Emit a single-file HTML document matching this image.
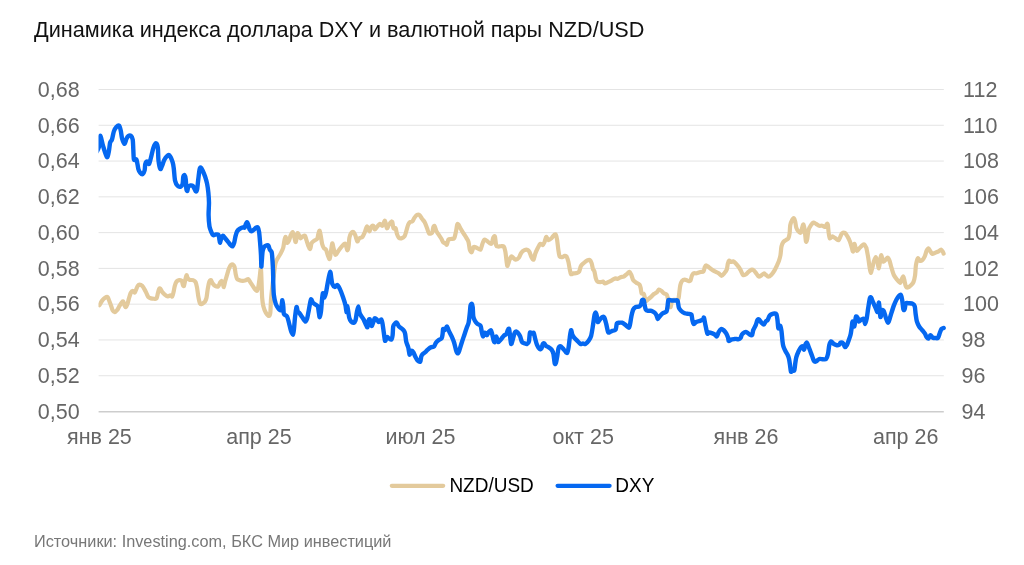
<!DOCTYPE html>
<html lang="ru"><head><meta charset="utf-8"><title>Динамика индекса доллара DXY и валютной пары NZD/USD</title>
<style>
html,body{margin:0;padding:0;background:#fff}
body{width:1024px;height:565px;overflow:hidden;font-family:"Liberation Sans",Arial,sans-serif}
svg{display:block}
text{font-family:"Liberation Sans",Arial,sans-serif}
.ax{font-size:21.5px;fill:#666}
.lg{font-size:19px;fill:#000}
</style></head><body>
<svg width="1024" height="565" viewBox="0 0 1024 565">
<rect width="1024" height="565" fill="#fff"/>
<text x="34" y="36.6" font-size="21.67" fill="#111">Динамика индекса доллара DXY и валютной пары NZD/USD</text>

<line x1="98.6" x2="943.8" y1="89.50" y2="89.50" stroke="#e4e4e4" stroke-width="1"/>
<line x1="98.6" x2="943.8" y1="125.28" y2="125.28" stroke="#e4e4e4" stroke-width="1"/>
<line x1="98.6" x2="943.8" y1="161.06" y2="161.06" stroke="#e4e4e4" stroke-width="1"/>
<line x1="98.6" x2="943.8" y1="196.84" y2="196.84" stroke="#e4e4e4" stroke-width="1"/>
<line x1="98.6" x2="943.8" y1="232.62" y2="232.62" stroke="#e4e4e4" stroke-width="1"/>
<line x1="98.6" x2="943.8" y1="268.40" y2="268.40" stroke="#e4e4e4" stroke-width="1"/>
<line x1="98.6" x2="943.8" y1="304.18" y2="304.18" stroke="#e4e4e4" stroke-width="1"/>
<line x1="98.6" x2="943.8" y1="339.96" y2="339.96" stroke="#e4e4e4" stroke-width="1"/>
<line x1="98.6" x2="943.8" y1="375.74" y2="375.74" stroke="#e4e4e4" stroke-width="1"/>
<line x1="98.6" x2="943.8" y1="411.7" y2="411.7" stroke="#cdcdcd" stroke-width="1.6"/>
<text class="ax" transform="translate(79.7,96.75) scale(1,1.05)" text-anchor="end">0,68</text>
<text class="ax" transform="translate(79.7,132.53) scale(1,1.05)" text-anchor="end">0,66</text>
<text class="ax" transform="translate(79.7,168.31) scale(1,1.05)" text-anchor="end">0,64</text>
<text class="ax" transform="translate(79.7,204.09) scale(1,1.05)" text-anchor="end">0,62</text>
<text class="ax" transform="translate(79.7,239.87) scale(1,1.05)" text-anchor="end">0,60</text>
<text class="ax" transform="translate(79.7,275.65) scale(1,1.05)" text-anchor="end">0,58</text>
<text class="ax" transform="translate(79.7,311.43) scale(1,1.05)" text-anchor="end">0,56</text>
<text class="ax" transform="translate(79.7,347.21) scale(1,1.05)" text-anchor="end">0,54</text>
<text class="ax" transform="translate(79.7,382.99) scale(1,1.05)" text-anchor="end">0,52</text>
<text class="ax" transform="translate(79.7,418.77) scale(1,1.05)" text-anchor="end">0,50</text>
<text class="ax" transform="translate(963.1,96.75) scale(1,1.05)">112</text>
<text class="ax" transform="translate(963.1,132.53) scale(1,1.05)">110</text>
<text class="ax" transform="translate(963.1,168.31) scale(1,1.05)">108</text>
<text class="ax" transform="translate(963.1,204.09) scale(1,1.05)">106</text>
<text class="ax" transform="translate(963.1,239.87) scale(1,1.05)">104</text>
<text class="ax" transform="translate(963.1,275.65) scale(1,1.05)">102</text>
<text class="ax" transform="translate(963.1,311.43) scale(1,1.05)">100</text>
<text class="ax" transform="translate(961.6,347.21) scale(1,1.05)">98</text>
<text class="ax" transform="translate(961.6,382.99) scale(1,1.05)">96</text>
<text class="ax" transform="translate(961.6,418.77) scale(1,1.05)">94</text>
<text class="ax" x="99.4" y="444.4" text-anchor="middle">янв 25</text>
<text class="ax" x="259" y="444.4" text-anchor="middle">апр 25</text>
<text class="ax" x="420.5" y="444.4" text-anchor="middle">июл 25</text>
<text class="ax" x="583.2" y="444.4" text-anchor="middle">окт 25</text>
<text class="ax" x="746" y="444.4" text-anchor="middle">янв 26</text>
<text class="ax" x="905.7" y="444.4" text-anchor="middle">апр 26</text>
<clipPath id="plot"><rect x="98.5" y="80" width="850" height="340"/></clipPath><g clip-path="url(#plot)">
<path d="M99.42,305.28C99.78,304.65 101.12,301.96 101.93,300.88C102.74,299.80 104.27,298.28 105.08,297.74C105.89,297.20 106.96,296.57 107.59,297.11C108.22,297.65 108.93,300.16 109.47,301.51C110.01,302.86 110.91,305.27 111.36,306.53C111.81,307.79 112.16,309.49 112.61,310.3C113.06,311.11 113.87,312.19 114.5,312.19C115.13,312.19 116.29,311.20 117.01,310.3C117.73,309.40 118.80,307.07 119.52,305.9C120.24,304.73 121.50,302.77 122.04,302.14C122.58,301.51 122.93,301.06 123.29,301.51C123.65,301.96 124.19,304.47 124.55,305.28C124.91,306.09 125.39,307.34 125.8,307.16C126.21,306.98 126.99,305.28 127.44,304.02C127.89,302.76 128.46,299.99 128.94,298.37C129.42,296.75 130.29,293.79 130.83,292.71C131.37,291.63 132.17,290.83 132.71,290.83C133.25,290.83 134.15,292.80 134.6,292.71C135.05,292.62 135.40,291.19 135.85,290.2C136.30,289.21 137.20,286.61 137.74,285.8C138.28,284.99 138.99,284.55 139.62,284.55C140.25,284.55 141.42,285.08 142.14,285.8C142.86,286.52 144.02,288.49 144.65,289.57C145.28,290.65 145.99,292.26 146.53,293.34C147.07,294.42 147.79,296.39 148.42,297.11C149.05,297.83 150.12,298.14 150.93,298.37C151.74,298.60 153.26,298.74 154.07,298.74C154.88,298.74 156.04,299.14 156.58,298.37C157.12,297.60 157.48,294.69 157.84,293.34C158.20,291.99 158.74,289.60 159.1,288.94C159.46,288.28 159.90,288.24 160.35,288.69C160.80,289.14 161.61,291.25 162.24,292.09C162.87,292.93 163.94,293.97 164.75,294.6C165.56,295.23 167.08,296.39 167.89,296.48C168.70,296.57 169.77,295.23 170.4,295.23C171.03,295.23 171.84,296.93 172.29,296.48C172.74,296.03 173.18,293.62 173.54,292.09C173.90,290.56 174.35,287.33 174.8,285.8C175.25,284.27 176.05,282.22 176.68,281.41C177.31,280.60 178.48,280.24 179.2,280.15C179.92,280.06 181.17,280.06 181.71,280.78C182.25,281.50 182.64,284.46 182.96,285.18C183.28,285.90 183.65,286.52 183.97,285.8C184.29,285.08 184.87,281.67 185.23,280.15C185.59,278.63 186.12,275.40 186.48,275.13C186.84,274.86 187.26,277.59 187.74,278.27C188.22,278.95 189.12,279.63 189.87,279.9C190.62,280.17 192.21,279.84 193.02,280.15C193.83,280.46 194.96,280.96 195.53,282.04C196.10,283.12 196.65,285.63 197.04,287.69C197.43,289.75 197.88,294.24 198.29,296.48C198.70,298.72 199.42,302.31 199.92,303.39C200.42,304.47 201.18,304.20 201.81,304.02C202.44,303.84 203.86,302.50 204.32,302.14C204.78,301.78 204.69,302.14 205,301.51C205.31,300.88 206.12,299.54 206.51,297.74C206.90,295.94 207.35,291.27 207.76,288.94C208.17,286.61 208.93,282.67 209.4,281.41C209.87,280.15 210.58,279.88 211.03,280.15C211.48,280.42 211.97,282.48 212.54,283.29C213.11,284.10 214.24,285.35 215.05,285.8C215.86,286.25 217.47,286.88 218.19,286.43C218.91,285.98 219.60,283.47 220.08,282.66C220.56,281.85 221.19,280.69 221.58,280.78C221.97,280.87 222.52,282.39 222.84,283.29C223.16,284.19 223.52,287.33 223.84,287.06C224.16,286.79 224.65,283.11 225.1,281.41C225.55,279.71 226.44,276.93 226.98,275.13C227.52,273.33 228.33,270.28 228.87,268.84C229.41,267.40 230.21,265.71 230.75,265.08C231.29,264.45 232.10,264.18 232.64,264.45C233.18,264.72 234.07,265.52 234.52,266.96C234.97,268.40 235.42,272.80 235.78,274.5C236.14,276.20 236.50,278.08 237.04,278.89C237.58,279.70 238.74,279.88 239.55,280.15C240.36,280.42 241.79,280.78 242.69,280.78C243.59,280.78 245.02,280.38 245.83,280.15C246.64,279.92 247.71,278.88 248.34,279.15C248.97,279.42 249.60,281.09 250.23,282.04C250.86,282.99 252.02,284.72 252.74,285.8C253.46,286.88 254.62,288.85 255.25,289.57C255.88,290.29 256.69,291.28 257.14,290.83C257.59,290.38 258.03,288.31 258.39,286.43C258.75,284.55 259.29,280.33 259.65,277.64C260.01,274.95 260.63,267.05 260.9,267.59C261.17,268.13 261.35,277.10 261.53,281.41C261.71,285.72 261.89,294.15 262.16,297.74C262.43,301.33 262.88,304.38 263.42,306.53C263.96,308.68 265.12,311.46 265.93,312.81C266.74,314.16 268.44,315.95 269.07,315.95C269.70,315.95 270.06,315.05 270.33,312.81C270.60,310.57 270.68,303.84 270.95,300.25C271.22,296.66 271.80,291.28 272.21,287.69C272.62,284.10 273.40,278.51 273.84,275.13C274.28,271.75 274.86,266.26 275.3,264.05C275.74,261.84 276.16,261.18 276.93,259.65C277.70,258.12 279.80,255.08 280.7,253.37C281.60,251.66 282.68,249.59 283.22,247.71C283.76,245.83 284.11,241.70 284.47,240.18C284.83,238.66 285.37,236.68 285.73,237.04C286.09,237.40 286.53,242.15 286.98,242.69C287.43,243.23 288.33,241.88 288.87,240.8C289.41,239.72 290.21,236.41 290.75,235.15C291.29,233.89 292.15,231.83 292.64,232.01C293.13,232.19 293.70,234.97 294.15,236.41C294.60,237.85 295.31,242.51 295.78,242.06C296.25,241.61 296.96,234.26 297.41,233.27C297.86,232.28 298.49,234.43 298.92,235.15C299.35,235.87 299.89,238.11 300.43,238.29C300.97,238.47 302.04,236.77 302.69,236.41C303.34,236.05 304.41,235.24 304.95,235.78C305.49,236.32 305.98,238.74 306.46,240.18C306.94,241.62 307.80,244.57 308.34,245.83C308.88,247.09 309.78,249.33 310.23,248.97C310.68,248.61 310.94,244.49 311.48,243.32C312.02,242.15 313.18,241.43 313.99,240.8C314.80,240.17 316.51,239.91 317.14,238.92C317.77,237.93 318.03,235.06 318.39,233.89C318.75,232.72 319.29,230.39 319.65,230.75C320.01,231.11 320.54,234.53 320.9,236.41C321.26,238.29 321.71,242.24 322.16,243.94C322.61,245.64 323.51,247.53 324.05,248.34C324.59,249.15 325.39,248.61 325.93,249.6C326.47,250.59 327.27,253.90 327.81,255.25C328.35,256.60 329.25,259.56 329.7,259.02C330.15,258.48 330.59,253.72 330.95,251.48C331.31,249.24 331.85,243.86 332.21,243.32C332.57,242.78 333.02,246.10 333.47,247.71C333.92,249.32 334.81,253.90 335.35,254.62C335.89,255.34 336.61,253.55 337.24,252.74C337.87,251.93 338.94,250.05 339.75,248.97C340.56,247.89 342.08,245.92 342.89,245.2C343.70,244.48 344.77,243.22 345.4,243.94C346.03,244.66 346.84,249.87 347.29,250.23C347.74,250.59 348.24,248.26 348.54,246.46C348.84,244.66 349.06,239.54 349.42,237.66C349.78,235.78 350.47,234.08 351.06,233.27C351.65,232.46 352.94,231.65 353.57,232.01C354.20,232.37 354.91,234.43 355.45,235.78C355.99,237.13 356.80,241.07 357.34,241.43C357.88,241.79 358.50,238.92 359.22,238.29C359.94,237.66 361.55,237.94 362.36,237.04C363.17,236.14 364.21,233.54 364.87,232.01C365.53,230.48 366.38,226.45 367.01,226.36C367.64,226.27 368.68,231.29 369.27,231.38C369.86,231.47 370.59,227.79 371.16,226.98C371.73,226.17 372.75,225.37 373.29,225.73C373.83,226.09 374.33,229.41 374.92,229.5C375.51,229.59 376.72,227.17 377.44,226.36C378.16,225.55 379.23,223.93 379.95,223.84C380.67,223.75 381.74,226.18 382.46,225.73C383.18,225.28 384.34,220.34 384.97,220.7C385.60,221.06 386.32,227.61 386.86,228.24C387.40,228.87 388.11,226.00 388.74,225.1C389.37,224.20 390.75,222.40 391.26,221.96C391.77,221.52 391.96,221.11 392.29,222.01C392.62,222.91 393.06,227.39 393.54,228.29C394.02,229.19 395.20,227.48 395.68,228.29C396.16,229.10 396.48,232.59 396.93,233.94C397.38,235.29 398.19,237.08 398.82,237.71C399.45,238.34 400.52,238.52 401.33,238.34C402.14,238.16 403.75,237.54 404.47,236.46C405.19,235.38 405.82,232.51 406.36,230.8C406.90,229.09 407.70,225.78 408.24,224.52C408.78,223.26 409.54,222.46 410.13,222.01C410.72,221.56 411.76,222.01 412.39,221.38C413.02,220.75 413.86,218.54 414.52,217.61C415.18,216.68 416.32,215.21 417.04,214.85C417.76,214.49 418.83,214.53 419.55,215.1C420.27,215.67 421.34,217.88 422.06,218.87C422.78,219.86 423.85,220.66 424.57,222.01C425.29,223.36 426.46,226.67 427.09,228.29C427.72,229.91 428.25,232.69 428.97,233.32C429.69,233.95 431.48,233.59 432.11,232.69C432.74,231.79 433.01,227.97 433.37,227.04C433.73,226.11 434.17,225.53 434.62,226.16C435.07,226.79 435.88,230.14 436.51,231.43C437.14,232.72 438.30,234.12 439.02,235.2C439.74,236.28 440.96,237.98 441.53,238.97C442.10,239.96 442.50,241.48 443.04,242.11C443.58,242.74 444.76,243.01 445.3,243.37C445.84,243.73 446.36,245.16 446.81,244.62C447.26,244.08 447.85,240.41 448.44,239.6C449.03,238.79 450.14,239.15 450.95,238.97C451.76,238.79 453.38,239.42 454.1,238.34C454.82,237.26 455.53,233.40 455.98,231.43C456.43,229.46 456.88,225.51 457.24,224.52C457.60,223.53 458.04,223.98 458.49,224.52C458.94,225.06 459.66,227.03 460.38,228.29C461.10,229.55 462.62,231.88 463.52,233.32C464.42,234.76 465.94,237.08 466.66,238.34C467.38,239.60 468.09,240.49 468.54,242.11C468.99,243.73 469.35,248.21 469.8,249.65C470.25,251.09 471.14,252.52 471.68,252.16C472.22,251.80 472.85,247.77 473.57,247.14C474.29,246.51 475.72,247.40 476.71,247.76C477.70,248.12 479.67,250.19 480.48,249.65C481.29,249.11 481.82,245.43 482.36,243.99C482.90,242.55 483.62,240.05 484.25,239.6C484.88,239.15 485.95,240.31 486.76,240.85C487.57,241.39 489.18,243.01 489.9,243.37C490.62,243.73 491.30,244.18 491.78,243.37C492.26,242.56 492.84,238.70 493.29,237.71C493.74,236.72 494.51,235.38 494.92,236.46C495.33,237.54 495.73,243.81 496.18,245.25C496.63,246.69 497.44,246.37 498.07,246.51C498.70,246.65 499.77,246.26 500.58,246.26C501.39,246.26 503.04,245.76 503.72,246.51C504.40,247.26 504.94,249.38 505.35,251.53C505.76,253.68 506.30,259.52 506.61,261.58C506.92,263.64 507.10,266.16 507.49,265.98C507.88,265.80 508.83,261.68 509.37,260.33C509.91,258.98 510.81,257.02 511.26,256.56C511.71,256.10 511.91,256.66 512.54,257.09C513.17,257.52 514.78,259.51 515.68,259.6C516.58,259.69 518.01,258.70 518.82,257.71C519.63,256.72 520.52,253.77 521.33,252.69C522.14,251.61 523.57,250.58 524.47,250.18C525.37,249.78 526.89,249.65 527.61,249.92C528.33,250.19 528.96,251.04 529.5,252.06C530.04,253.08 530.79,256.01 531.38,257.09C531.97,258.17 533.10,260.05 533.64,259.6C534.18,259.15 534.58,255.56 535.15,253.94C535.72,252.32 536.94,249.73 537.66,248.29C538.38,246.85 539.46,244.34 540.18,243.89C540.90,243.44 542.06,245.42 542.69,245.15C543.32,244.88 544.07,243.18 544.57,242.01C545.07,240.84 545.67,237.25 546.21,236.98C546.75,236.71 547.59,239.95 548.34,240.13C549.09,240.31 550.67,238.96 551.48,238.24C552.29,237.52 553.36,235.58 553.99,235.1C554.62,234.62 555.43,234.13 555.88,234.85C556.33,235.57 556.78,237.94 557.14,240.13C557.50,242.32 558.03,247.85 558.39,250.18C558.75,252.51 559.11,255.47 559.65,256.46C560.19,257.45 561.44,257.18 562.16,257.09C562.88,257.00 564.04,255.92 564.67,255.83C565.30,255.74 566.02,255.56 566.56,256.46C567.10,257.36 567.99,260.32 568.44,262.11C568.89,263.90 569.34,267.31 569.7,269.02C570.06,270.73 570.41,273.42 570.95,274.05C571.49,274.68 572.66,273.56 573.47,273.42C574.28,273.28 575.80,273.31 576.61,273.04C577.42,272.77 578.49,272.55 579.12,271.53C579.75,270.51 580.29,267.14 581.01,265.88C581.73,264.62 583.25,263.51 584.15,262.74C585.05,261.97 586.48,260.88 587.29,260.48C588.10,260.08 589.17,259.56 589.8,259.97C590.43,260.38 591.23,262.08 591.68,263.37C592.13,264.66 592.54,267.85 592.94,269.02C593.34,270.19 594.06,270.27 594.45,271.53C594.84,272.79 595.29,276.37 595.7,277.81C596.11,279.25 596.66,280.95 597.34,281.58C598.02,282.21 599.67,282.21 600.48,282.21C601.29,282.21 602.36,281.40 602.99,281.58C603.62,281.76 604.15,283.38 604.87,283.47C605.59,283.56 607.03,282.66 608.02,282.21C609.01,281.76 610.79,280.87 611.78,280.33C612.77,279.79 614.02,278.66 614.92,278.44C615.82,278.22 617.26,279.00 618.07,278.82C618.88,278.64 619.77,277.51 620.58,277.19C621.39,276.87 622.82,277.01 623.72,276.56C624.62,276.11 626.05,274.73 626.86,274.05C627.67,273.37 628.74,271.69 629.37,271.78C630.00,271.87 630.71,273.47 631.26,274.67C631.81,275.87 632.47,279.03 633.19,280.18C633.91,281.33 635.43,282.06 636.33,282.69C637.23,283.32 638.84,283.76 639.47,284.57C640.10,285.38 640.42,287.08 640.73,288.34C641.04,289.60 641.16,292.56 641.61,293.37C642.06,294.18 643.37,293.18 643.87,293.99C644.37,294.80 644.77,298.03 645.13,299.02C645.49,300.01 646.02,300.81 646.38,300.9C646.74,300.99 647.01,300.19 647.64,299.65C648.27,299.11 649.88,297.95 650.78,297.14C651.68,296.33 653.02,294.71 653.92,293.99C654.82,293.27 656.34,292.74 657.06,292.11C657.78,291.48 658.31,289.78 658.94,289.6C659.57,289.42 660.74,290.31 661.46,290.85C662.18,291.39 663.22,292.83 663.97,293.37C664.72,293.91 666.16,293.81 666.73,294.62C667.30,295.43 667.61,297.76 667.99,299.02C668.37,300.28 668.99,302.25 669.37,303.42C669.75,304.59 670.31,307.37 670.63,307.19C670.95,307.01 671.33,303.20 671.63,302.16C671.93,301.12 671.92,300.22 672.76,299.9C673.60,299.58 676.70,300.21 677.54,299.9C678.38,299.59 678.42,298.78 678.67,297.76C678.92,296.74 679.07,294.53 679.3,292.74C679.53,290.95 679.89,286.91 680.3,285.2C680.71,283.49 681.56,281.61 682.19,280.8C682.82,279.99 683.89,279.55 684.7,279.55C685.51,279.55 687.03,280.62 687.84,280.8C688.65,280.98 689.78,281.52 690.35,280.8C690.92,280.08 691.41,276.86 691.86,275.78C692.31,274.70 692.81,273.63 693.49,273.27C694.17,272.91 695.64,273.45 696.63,273.27C697.62,273.09 699.41,272.28 700.4,272.01C701.39,271.74 702.91,272.10 703.54,271.38C704.17,270.66 704.44,267.84 704.8,266.98C705.16,266.12 705.52,265.35 706.06,265.35C706.60,265.35 707.76,266.39 708.57,266.98C709.38,267.57 710.81,268.87 711.71,269.5C712.61,270.13 713.86,270.84 714.85,271.38C715.84,271.92 717.67,272.64 718.62,273.27C719.57,273.90 720.70,275.78 721.51,275.78C722.32,275.78 723.52,274.17 724.27,273.27C725.02,272.37 726.28,270.85 726.78,269.5C727.28,268.15 727.47,265.10 727.79,263.84C728.11,262.58 728.57,260.97 729.05,260.7C729.53,260.43 730.61,261.87 731.18,261.96C731.75,262.05 732.44,261.15 733.07,261.33C733.70,261.51 734.77,262.41 735.58,263.22C736.39,264.03 737.91,265.81 738.72,266.98C739.53,268.15 740.60,270.21 741.23,271.38C741.86,272.55 742.49,274.70 743.12,275.15C743.75,275.60 744.91,274.94 745.63,274.52C746.35,274.10 747.36,272.90 748.17,272.21C748.98,271.52 750.50,269.97 751.31,269.7C752.12,269.43 753.10,269.79 753.82,270.33C754.54,270.87 755.61,272.57 756.33,273.47C757.05,274.37 758.12,276.34 758.84,276.61C759.56,276.88 760.64,275.80 761.36,275.35C762.08,274.90 763.24,273.56 763.87,273.47C764.50,273.38 765.12,274.27 765.75,274.72C766.38,275.17 767.46,276.61 768.27,276.61C769.08,276.61 770.51,275.62 771.41,274.72C772.31,273.82 773.74,271.68 774.55,270.33C775.36,268.98 776.43,266.65 777.06,265.3C777.69,263.95 778.46,262.34 778.94,260.9C779.42,259.46 780.09,257.31 780.45,255.25C780.81,253.19 781.05,248.34 781.46,246.46C781.87,244.58 782.71,242.96 783.34,242.06C783.97,241.16 785.13,240.72 785.85,240.18C786.57,239.64 787.83,239.28 788.37,238.29C788.91,237.30 789.35,235.15 789.62,233.27C789.89,231.39 789.89,226.98 790.25,225.1C790.61,223.22 791.60,221.07 792.14,220.08C792.68,219.09 793.57,217.92 794.02,218.19C794.47,218.46 794.96,220.61 795.28,221.96C795.60,223.31 795.83,226.26 796.28,227.61C796.73,228.96 797.76,230.66 798.42,231.38C799.08,232.10 800.39,233.18 800.93,232.64C801.47,232.10 801.83,228.78 802.19,227.61C802.55,226.44 803.08,224.11 803.44,224.47C803.80,224.83 804.34,227.71 804.7,230.13C805.06,232.55 805.59,240.17 805.95,241.43C806.31,242.69 806.85,240.53 807.21,238.92C807.57,237.31 807.93,232.10 808.47,230.13C809.01,228.16 810.26,226.18 810.98,225.1C811.70,224.02 812.77,222.77 813.49,222.59C814.21,222.41 815.20,223.39 816.01,223.84C816.82,224.29 818.25,225.46 819.15,225.73C820.05,226.00 821.39,225.55 822.29,225.73C823.19,225.91 824.77,227.25 825.43,226.98C826.09,226.71 826.57,224.11 826.93,223.84C827.29,223.57 827.71,223.93 827.94,225.1C828.17,226.27 828.30,230.13 828.57,232.01C828.84,233.89 829.28,237.66 829.82,238.29C830.36,238.92 831.53,236.41 832.34,236.41C833.15,236.41 834.58,237.75 835.48,238.29C836.38,238.83 837.90,240.45 838.62,240.18C839.34,239.91 840.02,237.40 840.5,236.41C840.98,235.42 841.38,233.77 842.01,233.27C842.64,232.77 844.13,232.44 844.9,232.89C845.67,233.34 846.69,235.19 847.41,236.41C848.13,237.63 849.29,239.82 849.92,241.43C850.55,243.04 851.36,246.27 851.81,247.71C852.26,249.15 852.71,252.02 853.07,251.48C853.43,250.94 853.96,244.48 854.32,243.94C854.68,243.40 855.22,246.72 855.58,247.71C855.94,248.70 856.29,250.76 856.83,250.85C857.37,250.94 858.54,249.15 859.35,248.34C860.16,247.53 861.77,245.74 862.49,245.2C863.21,244.66 863.83,244.21 864.37,244.57C864.91,244.93 865.94,247.10 866.26,247.71C866.58,248.32 866.30,247.45 866.58,248.87C866.86,250.29 867.81,255.15 868.22,257.66C868.63,260.17 869.11,264.31 869.47,266.46C869.83,268.61 870.32,272.56 870.73,272.74C871.14,272.92 871.91,269.33 872.36,267.71C872.81,266.09 873.39,262.95 873.87,261.43C874.35,259.91 875.25,257.04 875.75,257.04C876.25,257.04 876.94,259.82 877.39,261.43C877.84,263.04 878.50,268.52 878.89,268.34C879.28,268.16 879.79,262.06 880.15,260.18C880.51,258.30 881.02,254.97 881.41,255.15C881.80,255.33 882.37,260.71 882.91,261.43C883.45,262.15 884.50,260.72 885.18,260.18C885.86,259.64 887.06,257.57 887.69,257.66C888.32,257.75 889.03,259.36 889.57,260.8C890.11,262.24 890.83,265.65 891.46,267.71C892.09,269.77 893.16,273.54 893.97,275.25C894.78,276.96 896.21,278.57 897.11,279.65C898.01,280.73 899.62,282.79 900.25,282.79C900.88,282.79 901.06,280.55 901.51,279.65C901.96,278.75 902.94,276.24 903.39,276.51C903.84,276.78 904.29,280.09 904.65,281.53C905.01,282.97 905.45,285.70 905.9,286.56C906.35,287.42 907.07,287.74 907.79,287.56C908.51,287.38 910.12,286.07 910.93,285.3C911.74,284.53 912.85,283.60 913.44,282.16C914.03,280.72 914.72,277.67 915.08,275.25C915.44,272.83 915.56,267.62 915.95,265.2C916.34,262.78 917.30,258.92 917.84,258.29C918.38,257.66 919.09,260.53 919.72,260.8C920.35,261.07 921.52,260.81 922.24,260.18C922.96,259.55 924.12,257.76 924.75,256.41C925.38,255.06 926.09,251.92 926.63,250.75C927.17,249.58 927.98,248.15 928.52,248.24C929.06,248.33 929.86,250.57 930.4,251.38C930.94,252.19 931.57,253.71 932.29,253.89C933.01,254.07 934.53,253.00 935.43,252.64C936.33,252.28 937.76,251.83 938.57,251.38C939.38,250.93 940.45,249.41 941.08,249.5C941.71,249.59 942.60,251.42 942.96,252.01C943.32,252.60 943.50,253.41 943.59,253.64" fill="none" stroke="#e3ca9c" stroke-width="4.2" stroke-linejoin="round" stroke-linecap="round"/>
<path d="M96.91,151.46C97.22,150.74 98.57,148.67 99.05,146.43C99.53,144.19 99.71,135.75 100.3,135.75C100.89,135.75 102.24,143.38 103.19,146.43C104.14,149.48 106.15,156.39 106.96,157.11C107.77,157.83 108.39,153.52 108.84,151.46C109.29,149.40 109.65,144.37 110.1,142.66C110.55,140.95 111.44,141.13 111.98,139.52C112.52,137.91 113.24,133.15 113.87,131.36C114.50,129.57 115.63,127.77 116.38,126.96C117.13,126.15 118.52,125.16 119.15,125.7C119.78,126.24 120.37,128.93 120.78,130.73C121.19,132.53 121.50,136.39 122.04,138.27C122.58,140.15 123.92,143.83 124.55,143.92C125.18,144.01 125.89,140.02 126.43,138.89C126.97,137.76 127.69,136.46 128.32,136.01C128.95,135.56 130.20,135.25 130.83,135.75C131.46,136.25 132.35,137.46 132.71,139.52C133.07,141.58 133.16,147.33 133.34,150.2C133.52,153.07 133.52,158.27 133.97,159.62C134.42,160.97 135.85,158.27 136.48,159.62C137.11,160.97 137.83,167.17 138.37,169.05C138.91,170.93 139.62,172.09 140.25,172.81C140.88,173.53 142.13,174.43 142.76,174.07C143.39,173.71 144.29,171.74 144.65,170.3C145.01,168.86 144.92,165.28 145.28,164.02C145.64,162.76 146.62,161.51 147.16,161.51C147.70,161.51 148.51,164.56 149.05,164.02C149.59,163.48 150.30,160.07 150.93,157.74C151.56,155.41 152.72,149.75 153.44,147.69C154.16,145.63 155.32,143.29 155.95,143.29C156.58,143.29 157.48,145.27 157.84,147.69C158.20,150.11 158.11,157.20 158.47,160.25C158.83,163.30 159.81,168.33 160.35,169.05C160.89,169.77 161.70,166.54 162.24,165.28C162.78,164.02 163.49,161.51 164.12,160.25C164.75,158.99 165.91,157.20 166.63,156.48C167.35,155.76 168.30,154.45 169.15,155.23C170.00,156.01 171.89,159.99 172.56,161.93C173.23,163.87 173.46,166.15 173.82,168.84C174.18,171.53 174.54,178.36 175.08,180.78C175.62,183.20 176.78,184.96 177.59,185.8C178.40,186.64 180.01,186.95 180.73,186.68C181.45,186.41 182.25,185.30 182.61,183.92C182.97,182.54 182.97,178.27 183.24,177.01C183.51,175.75 184.14,174.77 184.5,175.13C184.86,175.49 185.48,177.55 185.75,179.52C186.02,181.49 186.15,187.32 186.38,188.94C186.61,190.56 187.12,191.19 187.39,190.83C187.66,190.47 187.88,187.18 188.27,186.43C188.66,185.68 189.52,185.64 190.15,185.55C190.78,185.46 192.03,185.32 192.66,185.8C193.29,186.28 194.10,188.13 194.55,188.94C195.00,189.75 195.44,191.37 195.8,191.46C196.16,191.55 196.70,191.37 197.06,189.57C197.42,187.77 197.96,181.76 198.32,178.89C198.68,176.02 199.21,171.08 199.57,169.47C199.93,167.86 200.38,167.41 200.83,167.59C201.28,167.77 202.08,169.38 202.71,170.73C203.34,172.08 204.60,175.13 205.23,177.01C205.86,178.89 206.66,181.68 207.11,183.92C207.56,186.16 208.10,190.02 208.37,192.71C208.64,195.40 208.96,199.57 208.99,202.76C209.02,205.95 208.52,211.68 208.59,215.05C208.66,218.42 209.07,223.94 209.47,226.36C209.87,228.78 210.82,230.75 211.36,232.01C211.90,233.27 212.61,234.79 213.24,235.15C213.87,235.51 215.03,234.61 215.75,234.52C216.47,234.43 217.78,234.07 218.27,234.52C218.76,234.97 218.92,236.49 219.15,237.66C219.38,238.83 219.61,242.51 219.9,242.69C220.19,242.87 220.73,239.91 221.16,238.92C221.59,237.93 222.34,235.87 222.91,235.78C223.48,235.69 224.41,237.39 225.18,238.29C225.95,239.19 227.51,241.07 228.32,242.06C229.13,243.05 230.20,244.61 230.83,245.2C231.46,245.79 232.23,246.57 232.71,246.21C233.19,245.85 233.82,244.09 234.22,242.69C234.62,241.29 235.07,238.03 235.48,236.41C235.89,234.79 236.52,232.46 237.11,231.38C237.70,230.30 238.81,229.44 239.62,228.87C240.43,228.30 242.04,227.54 242.76,227.36C243.48,227.18 244.20,228.11 244.65,227.61C245.10,227.11 245.54,224.59 245.9,223.84C246.26,223.09 246.80,222.16 247.16,222.34C247.52,222.52 248.06,224.08 248.42,225.1C248.78,226.12 249.22,228.60 249.67,229.5C250.12,230.40 250.93,231.38 251.56,231.38C252.19,231.38 253.44,230.04 254.07,229.5C254.70,228.96 255.41,227.88 255.95,227.61C256.49,227.34 257.39,226.98 257.84,227.61C258.29,228.24 258.78,229.86 259.1,232.01C259.42,234.16 259.83,239.37 260.1,242.69C260.37,246.01 260.80,251.84 260.98,255.25C261.16,258.66 261.23,265.84 261.36,266.56C261.49,267.28 261.68,262.43 261.86,260.28C262.04,258.13 262.29,253.36 262.61,251.48C262.93,249.60 263.55,247.95 264.12,247.09C264.69,246.23 266.00,245.63 266.63,245.45C267.26,245.27 268.07,245.24 268.52,245.83C268.97,246.42 269.32,248.70 269.77,249.6C270.22,250.50 271.30,250.94 271.66,252.11C272.02,253.28 272.11,255.52 272.29,257.76C272.47,260.00 272.78,265.21 272.91,267.81C273.04,270.41 273.12,273.87 273.17,275.98C273.22,278.09 273.14,279.82 273.24,282.56C273.34,285.30 273.51,292.08 273.87,295.13C274.23,298.18 275.12,302.04 275.75,303.92C276.38,305.80 277.55,307.42 278.27,308.32C278.99,309.22 280.30,310.65 280.78,310.2C281.26,309.75 281.43,306.62 281.66,305.18C281.89,303.74 282.18,299.97 282.41,300.15C282.64,300.33 283.07,304.46 283.29,306.43C283.51,308.40 283.38,312.53 283.92,313.97C284.46,315.41 286.34,315.22 287.06,316.48C287.78,317.74 288.40,320.79 288.94,322.76C289.48,324.73 290.26,328.59 290.83,330.3C291.40,332.01 292.51,334.88 292.96,334.7C293.41,334.52 293.68,331.47 293.97,329.05C294.26,326.63 294.61,320.88 294.97,317.74C295.33,314.60 296.08,307.96 296.48,307.06C296.88,306.16 297.29,310.56 297.74,311.46C298.19,312.36 298.99,312.53 299.62,313.34C300.25,314.15 301.33,315.94 302.14,317.11C302.95,318.28 304.56,321.33 305.28,321.51C306.00,321.69 306.66,319.99 307.16,318.37C307.66,316.75 308.25,312.89 308.79,310.2C309.33,307.51 310.36,300.60 310.93,299.52C311.50,298.44 312.18,301.94 312.81,302.66C313.44,303.38 314.61,304.01 315.33,304.55C316.05,305.09 317.34,305.26 317.84,306.43C318.34,307.60 318.57,311.18 318.84,312.71C319.11,314.24 319.41,317.29 319.72,317.11C320.03,316.93 320.67,313.70 320.98,311.46C321.29,309.22 321.59,304.01 321.86,301.41C322.13,298.81 322.50,293.78 322.86,293.24C323.22,292.70 323.92,297.73 324.37,297.64C324.82,297.55 325.51,294.85 326.01,292.61C326.51,290.37 327.30,284.89 327.89,281.93C328.48,278.97 329.65,272.33 330.15,271.88C330.65,271.43 331.10,277.08 331.41,278.79C331.72,280.50 331.81,282.65 332.29,283.82C332.77,284.99 334.08,286.78 334.8,286.96C335.52,287.14 336.59,284.81 337.31,285.08C338.03,285.35 339.01,287.14 339.82,288.84C340.63,290.54 342.15,294.68 342.96,297.01C343.77,299.34 344.98,303.03 345.48,305.18C345.98,307.33 346.21,311.91 346.48,312.09C346.75,312.27 346.96,305.62 347.36,306.43C347.76,307.24 348.71,315.59 349.25,317.74C349.79,319.89 350.50,320.79 351.13,321.51C351.76,322.23 353.01,322.94 353.64,322.76C354.27,322.58 355.08,321.69 355.53,320.25C355.98,318.81 356.39,314.68 356.78,312.71C357.17,310.74 357.89,306.43 358.29,306.43C358.69,306.43 359.14,311.36 359.55,312.71C359.96,314.06 360.59,314.86 361.18,315.85C361.77,316.84 362.97,318.27 363.69,319.62C364.41,320.97 365.67,324.20 366.21,325.28C366.75,326.36 367.10,327.88 367.46,327.16C367.82,326.44 368.36,321.33 368.72,320.25C369.08,319.17 369.56,318.81 369.97,319.62C370.38,320.43 371.16,325.45 371.61,325.9C372.06,326.35 372.67,323.85 373.12,322.76C373.57,321.67 374.23,318.71 374.77,318.24C375.31,317.77 376.34,318.96 376.91,319.5C377.48,320.04 378.16,322.01 378.79,322.01C379.42,322.01 380.77,319.23 381.31,319.5C381.85,319.77 382.20,322.01 382.56,323.89C382.92,325.77 383.46,330.27 383.82,332.69C384.18,335.11 384.63,340.22 385.08,340.85C385.53,341.48 386.42,337.45 386.96,337.09C387.50,336.73 388.21,337.98 388.84,338.34C389.47,338.70 390.82,340.05 391.36,339.6C391.90,339.15 392.34,337.08 392.61,335.2C392.88,333.32 392.88,328.11 393.24,326.41C393.60,324.71 394.59,323.77 395.13,323.27C395.67,322.77 396.47,322.44 397.01,322.89C397.55,323.34 398.26,325.64 398.89,326.41C399.52,327.18 400.69,327.66 401.41,328.29C402.13,328.92 403.38,329.99 403.92,330.8C404.46,331.61 404.86,332.41 405.18,333.94C405.50,335.47 405.73,339.51 406.18,341.48C406.63,343.45 407.84,345.88 408.32,347.76C408.80,349.64 409.16,354.22 409.57,354.67C409.98,355.12 410.67,351.26 411.21,350.9C411.75,350.54 412.77,351.35 413.34,352.16C413.91,352.97 414.64,355.39 415.23,356.56C415.82,357.73 416.77,359.61 417.49,360.33C418.21,361.05 419.71,362.12 420.25,361.58C420.79,361.04 420.90,357.64 421.26,356.56C421.62,355.48 422.10,354.77 422.76,354.05C423.42,353.33 425.00,352.34 425.9,351.53C426.80,350.72 428.24,349.02 429.05,348.39C429.86,347.76 430.84,347.41 431.56,347.14C432.28,346.87 433.44,347.14 434.07,346.51C434.70,345.88 435.32,343.64 435.95,342.74C436.58,341.84 437.66,340.86 438.47,340.23C439.28,339.60 441.02,339.24 441.61,338.34C442.20,337.44 442.39,335.29 442.61,333.94C442.83,332.59 442.81,329.46 443.12,328.92C443.43,328.38 444.21,330.54 444.75,330.18C445.29,329.82 446.34,326.41 446.88,326.41C447.42,326.41 447.84,328.74 448.52,330.18C449.20,331.62 450.85,334.67 451.66,336.46C452.47,338.25 453.54,340.77 454.17,342.74C454.80,344.71 455.56,348.75 456.06,350.28C456.56,351.81 457.24,353.33 457.69,353.42C458.14,353.51 458.63,352.43 459.2,350.9C459.77,349.37 460.99,344.98 461.71,342.74C462.43,340.50 463.50,337.35 464.22,335.2C464.94,333.05 466.10,329.45 466.73,327.66C467.36,325.87 468.17,324.79 468.62,322.64C469.07,320.49 469.60,315.01 469.87,312.59C470.14,310.17 470.23,306.94 470.5,305.68C470.77,304.42 471.44,303.52 471.76,303.79C472.08,304.06 472.54,305.76 472.76,307.56C472.98,309.36 472.96,314.48 473.27,316.36C473.58,318.24 474.31,319.67 474.9,320.75C475.49,321.83 476.60,323.17 477.41,323.89C478.22,324.61 479.92,324.61 480.55,325.78C481.18,326.95 481.45,330.53 481.81,332.06C482.17,333.59 482.62,336.37 483.07,336.46C483.52,336.55 484.41,332.87 484.95,332.69C485.49,332.51 486.29,335.29 486.83,335.2C487.37,335.11 488.15,332.78 488.72,332.06C489.29,331.34 490.37,329.91 490.85,330.18C491.33,330.45 491.70,332.42 492.11,333.94C492.52,335.46 493.36,339.69 493.74,340.85C494.12,342.01 494.41,342.72 494.77,342.09C495.13,341.46 495.79,336.43 496.28,336.43C496.77,336.43 497.45,341.73 498.17,342.09C498.89,342.45 500.50,339.84 501.31,338.94C502.12,338.04 503.10,336.52 503.82,335.8C504.54,335.08 505.76,334.73 506.33,333.92C506.90,333.11 507.44,330.87 507.84,330.15C508.24,329.43 508.78,327.99 509.1,328.89C509.42,329.79 509.81,334.28 510.1,336.43C510.39,338.58 510.75,343.43 511.11,343.97C511.47,344.51 512.13,341.73 512.61,340.2C513.09,338.67 513.96,334.55 514.5,333.29C515.04,332.03 515.84,331.41 516.38,331.41C516.92,331.41 517.73,332.57 518.27,333.29C518.81,334.01 519.61,335.17 520.15,336.43C520.69,337.69 521.41,341.10 522.04,342.09C522.67,343.08 523.83,343.07 524.55,343.34C525.27,343.61 526.43,344.24 527.06,343.97C527.69,343.70 528.53,343.08 528.94,341.46C529.35,339.84 529.50,333.77 529.95,332.66C530.40,331.55 531.55,333.63 532.09,333.67C532.63,333.71 533.27,332.16 533.72,332.91C534.17,333.66 534.75,337.18 535.23,338.94C535.71,340.70 536.48,343.79 537.11,345.23C537.74,346.67 538.99,348.54 539.62,348.99C540.25,349.44 541.06,349.09 541.51,348.37C541.96,347.65 542.37,344.69 542.76,343.97C543.15,343.25 543.82,343.07 544.27,343.34C544.72,343.61 545.31,345.31 545.9,345.85C546.49,346.39 547.61,346.57 548.42,347.11C549.23,347.65 550.84,348.63 551.56,349.62C552.28,350.61 552.99,352.05 553.44,354.02C553.89,355.99 554.34,362.18 554.7,363.44C555.06,364.70 555.59,363.80 555.95,362.81C556.31,361.82 556.85,358.59 557.21,356.53C557.57,354.47 558.02,349.84 558.47,348.37C558.92,346.90 559.72,346.23 560.35,346.23C560.98,346.23 562.14,347.62 562.86,348.37C563.58,349.12 564.75,350.88 565.38,351.51C566.01,352.14 566.81,353.30 567.26,352.76C567.71,352.22 568.16,349.89 568.52,347.74C568.88,345.59 569.41,340.20 569.77,337.69C570.13,335.18 570.67,330.60 571.03,330.15C571.39,329.70 571.84,333.47 572.29,334.55C572.74,335.63 573.45,336.79 574.17,337.69C574.89,338.59 576.41,339.93 577.31,340.83C578.21,341.73 579.64,343.61 580.45,343.97C581.26,344.33 582.24,343.34 582.96,343.34C583.68,343.34 584.67,344.33 585.48,343.97C586.29,343.61 587.81,342.00 588.62,340.83C589.43,339.66 590.50,338.04 591.13,335.8C591.76,333.56 592.54,328.09 593.02,325.13C593.50,322.17 594.13,316.88 594.52,315.08C594.91,313.28 595.46,312.47 595.78,312.56C596.10,312.65 596.49,314.35 596.78,315.7C597.07,317.05 597.34,321.44 597.79,321.98C598.24,322.52 599.26,320.19 599.92,319.47C600.58,318.75 601.81,317.23 602.44,316.96C603.07,316.69 603.78,316.60 604.32,317.59C604.86,318.58 605.67,321.81 606.21,323.87C606.75,325.93 607.55,330.87 608.09,332.04C608.63,333.21 609.34,332.22 609.97,332.04C610.60,331.86 611.68,331.13 612.49,330.78C613.30,330.43 615.02,330.68 615.65,329.62C616.28,328.56 616.37,324.33 616.91,323.34C617.45,322.35 618.70,322.80 619.42,322.71C620.14,322.62 621.12,322.44 621.93,322.71C622.74,322.98 624.09,323.88 625.08,324.6C626.07,325.32 628.12,327.83 628.84,327.74C629.56,327.65 629.74,325.59 630.1,323.97C630.46,322.35 630.91,318.49 631.36,316.43C631.81,314.37 632.61,310.87 633.24,309.52C633.87,308.17 634.85,307.46 635.75,307.01C636.65,306.56 638.75,306.83 639.52,306.38C640.29,305.93 640.80,304.77 641.16,303.87C641.52,302.97 641.68,300.64 642.04,300.1C642.40,299.56 643.31,299.47 643.67,300.1C644.03,300.73 644.25,303.15 644.55,304.5C644.85,305.85 645.26,308.62 645.8,309.52C646.34,310.42 647.51,310.60 648.32,310.78C649.13,310.96 650.56,310.51 651.46,310.78C652.36,311.05 653.88,312.03 654.6,312.66C655.32,313.29 656.03,314.28 656.48,315.18C656.93,316.08 657.29,318.76 657.74,318.94C658.19,319.12 658.90,317.24 659.62,316.43C660.34,315.62 661.77,314.01 662.76,313.29C663.75,312.57 665.85,312.40 666.53,311.41C667.21,310.42 667.27,308.00 667.54,306.38C667.81,304.76 667.85,300.94 668.42,300.1C668.99,299.26 670.57,300.43 671.56,300.48C672.55,300.53 674.47,300.44 675.33,300.48C676.19,300.52 677.09,299.71 677.59,300.73C678.09,301.75 678.36,306.20 678.84,307.64C679.32,309.08 680.14,309.97 680.98,310.78C681.82,311.59 683.67,312.84 684.75,313.29C685.83,313.74 687.57,313.74 688.52,313.92C689.47,314.10 690.87,313.74 691.41,314.55C691.95,315.36 691.99,318.22 692.29,319.57C692.59,320.92 693.00,323.61 693.54,323.97C694.08,324.33 695.16,322.54 696.06,322.09C696.96,321.64 698.83,321.19 699.82,320.83C700.81,320.47 702.37,320.02 702.96,319.57C703.55,319.12 703.61,316.88 703.97,317.69C704.33,318.50 705.00,322.99 705.48,325.23C705.96,327.47 706.82,332.35 707.36,333.39C707.90,334.43 708.53,332.51 709.25,332.51C709.97,332.51 711.58,333.08 712.39,333.39C713.20,333.70 714.27,334.20 714.9,334.65C715.53,335.10 716.24,336.89 716.78,336.53C717.32,336.17 718.04,333.22 718.67,332.14C719.30,331.06 720.46,329.26 721.18,328.99C721.90,328.72 722.97,329.62 723.69,330.25C724.41,330.88 725.58,332.31 726.21,333.39C726.84,334.47 727.73,336.71 728.09,337.79C728.45,338.87 728.27,340.66 728.72,340.93C729.17,341.20 730.42,339.94 731.23,339.67C732.04,339.40 733.74,339.16 734.37,339.05C735.00,338.94 735.02,338.90 735.65,338.92C736.28,338.94 738.07,339.35 738.79,339.17C739.51,338.99 740.23,338.32 740.68,337.66C741.13,337.00 741.39,335.27 741.93,334.52C742.47,333.77 743.82,332.75 744.45,332.39C745.08,332.03 745.70,331.80 746.33,332.01C746.96,332.22 748.03,333.44 748.84,333.89C749.65,334.34 751.35,335.69 751.98,335.15C752.61,334.61 752.70,331.57 753.24,330.13C753.78,328.69 755.16,326.54 755.75,325.1C756.34,323.66 756.94,320.89 757.39,320.08C757.84,319.27 758.32,319.09 758.89,319.45C759.46,319.81 760.69,321.87 761.41,322.59C762.13,323.31 763.29,324.65 763.92,324.47C764.55,324.29 765.26,321.96 765.8,321.33C766.34,320.70 767.15,320.89 767.69,320.08C768.23,319.27 768.94,316.54 769.57,315.68C770.20,314.82 771.37,314.36 772.09,314.05C772.81,313.74 773.97,313.49 774.6,313.54C775.23,313.59 776.07,313.49 776.48,314.42C776.89,315.35 777.22,318.11 777.49,320.08C777.76,322.05 777.98,327.43 778.37,328.24C778.76,329.05 779.80,325.28 780.25,325.73C780.70,326.18 781.19,329.14 781.51,331.38C781.83,333.62 782.24,339.28 782.51,341.43C782.78,343.58 782.99,345.11 783.39,346.46C783.79,347.81 784.65,349.59 785.28,350.85C785.91,352.11 787.25,354.08 787.79,355.25C788.33,356.42 788.73,357.58 789.05,359.02C789.37,360.46 789.78,363.51 790.05,365.3C790.32,367.09 790.54,370.86 790.93,371.58C791.32,372.30 792.33,370.51 792.81,370.33C793.29,370.15 793.96,371.41 794.32,370.33C794.68,369.25 795.04,364.67 795.33,362.79C795.62,360.91 795.88,358.76 796.33,357.14C796.78,355.52 797.81,352.92 798.47,351.48C799.13,350.04 800.35,347.81 800.98,347.09C801.61,346.37 802.41,346.10 802.86,346.46C803.31,346.82 803.76,349.87 804.12,349.6C804.48,349.33 804.99,345.56 805.38,344.57C805.77,343.58 806.43,342.42 806.88,342.69C807.33,342.96 808.02,345.20 808.52,346.46C809.02,347.72 809.86,350.04 810.4,351.48C810.94,352.92 811.79,355.16 812.29,356.51C812.79,357.86 813.38,360.18 813.92,360.9C814.46,361.62 815.31,361.80 816.06,361.53C816.81,361.26 818.21,359.34 819.2,359.02C820.19,358.70 821.97,359.27 822.96,359.27C823.95,359.27 825.39,359.77 826.11,359.02C826.83,358.27 827.54,355.96 827.99,353.99C828.44,352.02 828.80,346.99 829.25,345.2C829.70,343.41 830.50,341.61 831.13,341.43C831.76,341.25 832.83,343.40 833.64,343.94C834.45,344.48 835.97,345.11 836.78,345.2C837.59,345.29 838.76,344.93 839.3,344.57C839.84,344.21 840.01,342.87 840.55,342.69C841.09,342.51 842.44,342.69 843.07,343.32C843.70,343.95 844.41,346.82 844.95,347.09C845.49,347.36 846.29,346.19 846.83,345.2C847.37,344.21 848.18,341.71 848.72,340.18C849.26,338.65 850.15,336.49 850.6,334.52C851.05,332.55 851.59,328.24 851.86,326.36C852.13,324.48 852.13,321.33 852.49,321.33C852.85,321.33 853.92,326.81 854.37,326.36C854.82,325.91 855.39,319.61 855.63,318.19C855.87,316.77 855.80,316.50 856.08,316.43C856.36,316.36 857.20,316.97 857.59,317.69C857.98,318.41 858.30,321.19 858.84,321.46C859.38,321.73 860.64,319.93 861.36,319.57C862.08,319.21 863.33,318.31 863.87,318.94C864.41,319.57 864.74,323.97 865.13,323.97C865.52,323.97 866.18,321.27 866.63,318.94C867.08,316.61 867.80,310.60 868.27,307.64C868.74,304.68 869.49,299.66 869.9,298.22C870.31,296.78 870.73,297.05 871.16,297.59C871.59,298.13 872.34,300.63 872.91,301.98C873.48,303.33 874.50,305.57 875.18,307.01C875.86,308.45 877.15,312.67 877.69,312.04C878.23,311.41 878.55,301.89 878.94,302.61C879.33,303.33 880.00,315.98 880.45,317.06C880.90,318.14 881.59,310.96 882.09,310.15C882.59,309.34 883.43,310.33 883.97,311.41C884.51,312.49 885.28,316.08 885.85,317.69C886.42,319.30 887.45,322.53 887.99,322.71C888.53,322.89 889.12,320.38 889.62,318.94C890.12,317.50 890.88,314.63 891.51,312.66C892.14,310.69 893.30,307.01 894.02,305.13C894.74,303.25 895.81,300.82 896.53,299.47C897.25,298.12 898.42,296.33 899.05,295.7C899.68,295.07 900.48,294.45 900.93,295.08C901.38,295.71 901.83,298.04 902.19,300.1C902.55,302.16 903.08,308.26 903.44,309.52C903.80,310.78 904.34,309.79 904.7,308.89C905.06,307.99 905.32,304.05 905.95,303.24C906.58,302.43 908.11,303.15 909.1,303.24C910.09,303.33 912.05,303.42 912.86,303.87C913.67,304.32 914.35,304.94 914.75,306.38C915.15,307.82 915.33,311.77 915.63,313.92C915.93,316.07 916.38,319.67 916.88,321.46C917.38,323.25 918.38,325.22 919.15,326.48C919.92,327.74 921.48,329.26 922.29,330.25C923.10,331.24 924.17,332.40 924.8,333.39C925.43,334.38 926.14,336.44 926.68,337.16C927.22,337.88 928.03,338.69 928.57,338.42C929.11,338.15 929.82,335.37 930.45,335.28C931.08,335.19 932.24,337.40 932.96,337.79C933.68,338.18 934.76,338.04 935.48,338.04C936.20,338.04 937.36,338.54 937.99,337.79C938.62,337.04 939.37,334.02 939.87,332.76C940.37,331.50 940.97,329.67 941.51,328.99C942.05,328.31 943.34,328.13 943.64,327.99" fill="none" stroke="#0568f1" stroke-width="4.4" stroke-linejoin="round" stroke-linecap="round"/></g>
<line x1="391.8" x2="443.2" y1="485.8" y2="485.8" stroke="#e3ca9c" stroke-width="4.2" stroke-linecap="round"/>
<text class="lg" transform="translate(449.4,492) scale(1,1.03)">NZD/USD</text>
<line x1="557.6" x2="609.6" y1="485.8" y2="485.8" stroke="#0568f1" stroke-width="4.2" stroke-linecap="round"/>
<text class="lg" transform="translate(615.3,492) scale(1,1.03)">DXY</text>
<text x="34" y="547.4" font-size="16.3" fill="#777">Источники: Investing.com, БКС Мир инвестиций</text>
</svg></body></html>
